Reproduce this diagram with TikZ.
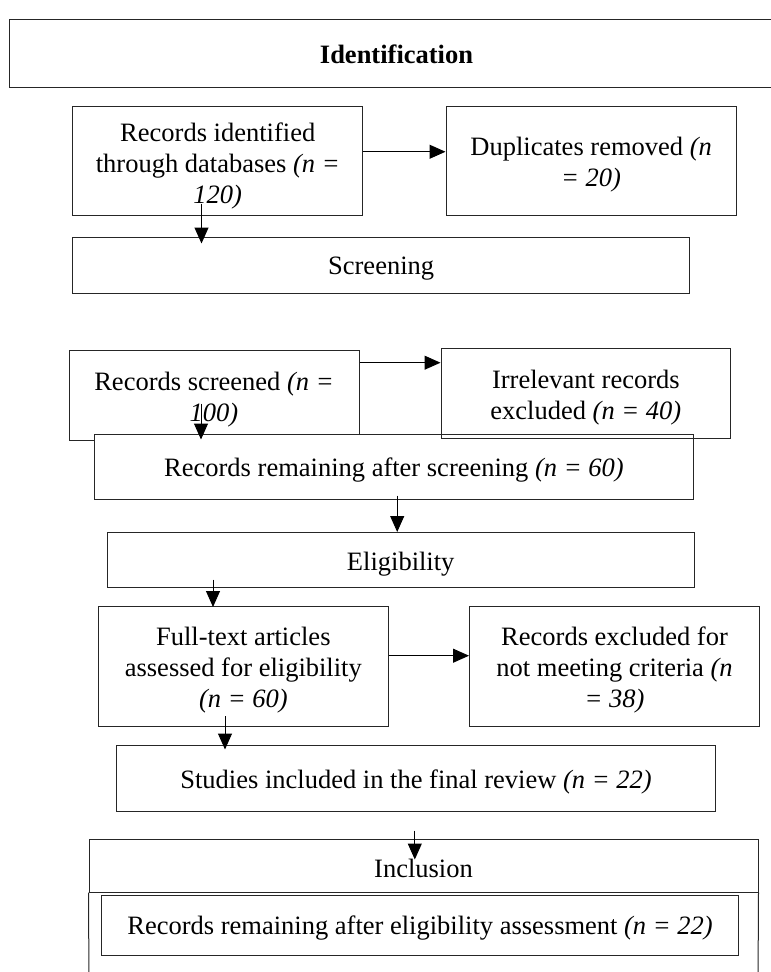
\documentclass[tikz,border=0pt]{standalone}
\usepackage{fontspec}
\setmainfont{Liberation Serif}
\usetikzlibrary{arrows.meta}
\tikzset{
  bx/.style={draw=black!85, line width=1pt, fill=white, rectangle, inner sep=0pt},
  txt/.style={inner sep=0pt, align=center, font=\fontsize{26.5pt}{31pt}\selectfont},
  arr/.style={draw=black, line width=1pt, -{Triangle[length=16pt,width=14pt]}},
  edge/.style={draw=black!85, line width=1pt}
}
\begin{document}
\begin{tikzpicture}[x=1pt,y=-1pt]
\useasboundingbox (0,0) rectangle (771,972);
\clip (0,0) rectangle (771,972);
% Identification
\node[bx, minimum width=775pt, minimum height=68pt] (ident) at (396.5,53) {};
\node[txt] (identt) at ([yshift=-1pt]ident.center) {\textbf{Identification}};
% first row
\node[bx, minimum width=290pt, minimum height=109.5pt] (rid) at (217.75,160.75) {};
\node[txt] (ridt) at ([yshift=-5pt]rid.center)
  {Records identified\\through databases \textit{(n =}\\\textit{120)}};
\node[bx, minimum width=290.3pt, minimum height=109.5pt] (dup) at (591.15,160.75) {};
\node[txt] (dupt) at ([yshift=-4pt]dup.center) {Duplicates removed \textit{(n}\\\textit{= 20)}};
\node[bx, minimum width=616.7pt, minimum height=55.3pt] (scr) at (381.15,265.35) {};
\node[txt] (scrt) at ([yshift=-3pt]scr.center) {Screening};
% second row
\node[bx, minimum width=290pt, minimum height=89.3pt] (rsc) at (214,395.35) {};
\node[txt] (rsct) at ([yshift=-4pt]rsc.center) {Records screened \textit{(n =}\\\textit{100)}};
\node[bx, minimum width=598.8pt, minimum height=64.7pt] (rem) at (393.9,466.65) {};
\node[txt] (remt) at ([yshift=-3pt]rem.center) {Records remaining after screening \textit{(n = 60)}};
\node[bx, fill=none, minimum width=289.7pt, minimum height=90.4pt] (irr) at (585.85,393.5) {};
\node[txt] (irrt) at ([yshift=-4pt]irr.center) {Irrelevant records\\excluded \textit{(n = 40)}};
\node[bx, minimum width=587pt, minimum height=54.5pt] (elig) at (400.7,559.75) {};
\node[txt] (eligt) at ([yshift=-4pt]elig.center) {Eligibility};
% third row
\node[bx, minimum width=290.1pt, minimum height=119.5pt] (ft) at (243.35,666.25) {};
\node[txt] (ftt) at ([yshift=-4pt]ft.center)
  {Full-text articles\\assessed for eligibility\\\textit{(n = 60)}};
\node[bx, minimum width=290.1pt, minimum height=119.5pt] (rex) at (614.55,666.25) {};
\node[txt] (rext) at ([yshift=-4pt]rex.center)
  {Records excluded for\\not meeting criteria \textit{(n}\\\textit{= 38)}};
\node[bx, minimum width=599.4pt, minimum height=66.7pt] (stu) at (416,778.35) {};
\node[txt] (stut) at ([yshift=-4pt]stu.center) {Studies included in the final review \textit{(n = 22)}};
% inclusion
\node[bx, minimum width=669pt, minimum height=53pt] (inc) at (423.5,865.5) {};
\node[txt] (inct) at ([yshift=-3pt]inc.center) {Inclusion};
\coordinate (incbl) at (89,985);
\coordinate (incbr) at (758,985);
\draw[edge] (inc.south west) -- (incbl);
\draw[edge] (inc.south east) -- (incbr);
\node[bx, minimum width=636.6pt, minimum height=59.3pt] (inner) at (420,925.35) {};
\node[txt] (innert) at ([yshift=-3pt]inner.center)
  {Records remaining after eligibility assessment \textit{(n = 22)}};
% arrow x positions
\coordinate (xa) at (201.5,0);
\coordinate (xb) at (201,0);
\coordinate (xc) at (397.2,0);
\coordinate (xd) at (213,0);
\coordinate (xe) at (225,0);
\coordinate (xf) at (414.8,0);
% horizontal arrows
\draw[arr] ([yshift=9pt]rid.east) -- ([yshift=9pt]rid.east -| dup.west);
\draw[arr] ([yshift=32.65pt]rsc.east) -- ([yshift=32.65pt]rsc.east -| irr.west);
\draw[arr] ([yshift=10.55pt]ft.east) -- ([yshift=10.55pt]ft.east -| rex.west);
% vertical arrows
\draw[arr] ([yshift=12.5pt]rid.south -| xa) -- ([yshift=-6.3pt]scr.north -| xa);
\draw[arr] ([yshift=37pt]rsc.south -| xb) -- ([yshift=-5.7pt]rem.north -| xb);
\draw[arr] ([yshift=4pt]rem.south -| xc) -- (elig.north -| xc);
\draw[arr] ([yshift=8pt]elig.south -| xd) -- ([yshift=-1pt]ft.north -| xd);
\draw[arr] ([yshift=10.3pt]ft.south -| xe) -- ([yshift=-5pt]stu.north -| xe);
\draw[arr] ([yshift=-18.3pt]stu.south -| xf) -- ([yshift=-21pt]inc.north -| xf);
\end{tikzpicture}
\end{document}
